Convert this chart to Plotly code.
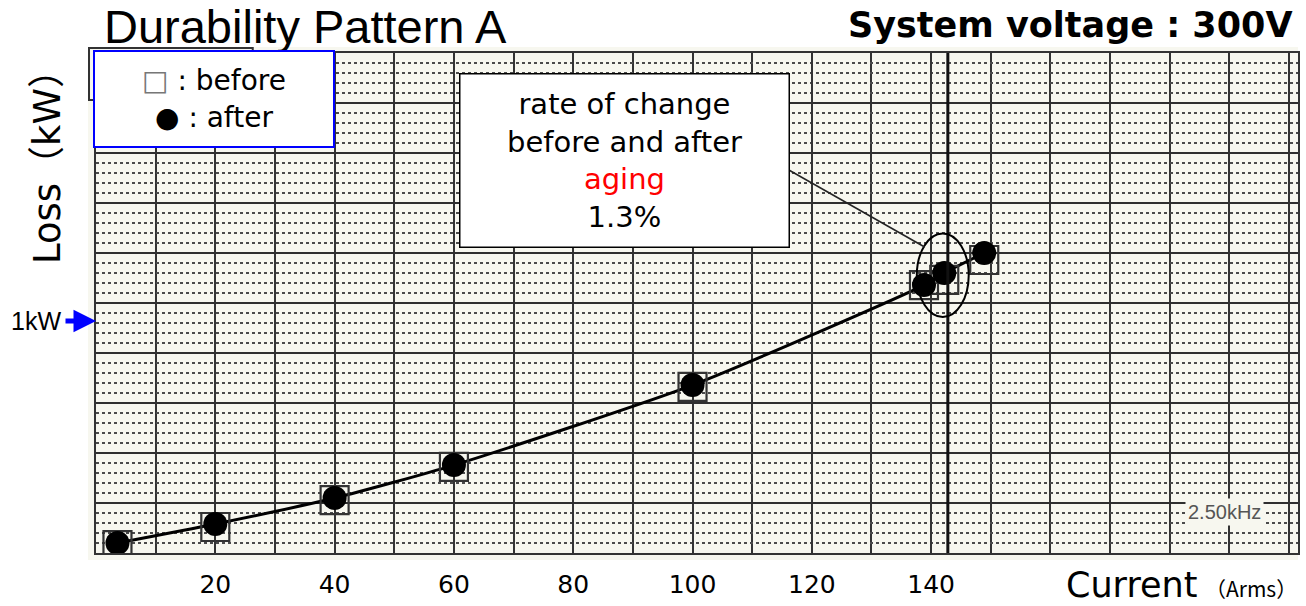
import plotly.graph_objects as go

# ---- data ----
current_before = [3.6, 20, 40, 60, 100, 138.8, 142.2, 148.9]
loss_before = [0.034, 0.112, 0.228, 0.371, 0.716, 1.155, 1.177, 1.263]
current_after = [3.6, 20, 40, 60, 100, 138.8, 142.2, 148.9]
loss_after = [0.043, 0.125, 0.237, 0.379, 0.724, 1.155, 1.207, 1.293]
x_tick_values = [20, 40, 60, 80, 100, 120, 140]
x_tick_labels = ["20", "40", "60", "80", "100", "120", "140"]
highlight_index = 6
marker_line_current = 142.8
one_kw = 1.0

# ---- axis geometry ----
X_RANGE = [0, 201.5]
Y_TOP = 500 / 232.0
Y_MAJOR = 50 / 232.0
Y_MINOR = 10 / 232.0

BG = "#f7f7ef"
GRID = "#333333"

fig = go.Figure()

fig.add_trace(go.Scatter(
    x=current_after, y=loss_after, mode="lines",
    line=dict(color="black", width=3, shape="spline", smoothing=0.6),
    hoverinfo="skip", showlegend=False))
fig.add_trace(go.Scatter(
    x=current_before, y=loss_before, mode="markers", name="before",
    marker=dict(symbol="square-open", size=28, color="#333333",
                line=dict(width=2.2, color="#333333")),
    showlegend=False))
fig.add_trace(go.Scatter(
    x=current_after, y=loss_after, mode="markers", name="after",
    marker=dict(symbol="circle", size=24, color="black"),
    showlegend=False))

# paper strip of the scanned sheet + shadow box behind legend
shapes = [
    dict(type="rect", xref="paper", yref="paper",
         x0=(88 - 96) / 1204, x1=1.0, y0=(553 - 560) / 500, y1=(553 - 47) / 500,
         fillcolor=BG, line=dict(width=0), layer="below"),
    dict(type="rect", xref="paper", yref="paper",
         x0=(89 - 96) / 1204, x1=(253 - 96) / 1204, y0=(553 - 100) / 500, y1=(553 - 48) / 500,
         fillcolor="rgba(0,0,0,0)", line=dict(width=2, color="#333333"), layer="above"),
    # thick measurement line
    dict(type="line", xref="x", yref="paper", x0=marker_line_current, x1=marker_line_current,
         y0=0, y1=1, line=dict(color="#111111", width=3)),
]
hx = current_after[highlight_index]
hy = loss_after[highlight_index]
shapes.append(dict(type="circle", xref="x", yref="y",
                   x0=hx - 4.6, x1=hx + 4.1, y0=hy - 0.19, y1=hy + 0.17,
                   line=dict(color="black", width=2), fillcolor="rgba(0,0,0,0)"))
shapes.append(dict(type="line", xref="paper", yref="paper",
                   x0=(790 - 96) / 1204, y0=(553 - 170) / 500,
                   x1=(926 - 96) / 1204, y1=(553 - 247) / 500,
                   line=dict(color="#222222", width=1.5)))

annotations = [
    dict(text="Durability Pattern A", xref="paper", yref="paper",
         x=(102 - 96) / 1204, y=(553 - 27) / 500, xanchor="left", yanchor="middle",
         showarrow=False, font=dict(family="Liberation Sans", size=47, color="black")),
    dict(text="<b>System voltage : 300V</b>", xref="paper", yref="paper",
         x=(1297 - 96) / 1204, y=(553 - 25) / 500, xanchor="right", yanchor="middle",
         showarrow=False, font=dict(family="DejaVu Sans", size=35, color="black")),
    dict(text="Loss（kW）", xref="paper", yref="paper", textangle=-90,
         x=(47 - 96) / 1204, y=(553 - 158) / 500, xanchor="center", yanchor="middle",
         showarrow=False, font=dict(family="DejaVu Sans, Noto Sans CJK JP", size=37, color="black")),
    dict(text="Current", xref="paper", yref="paper",
         x=(1066 - 96) / 1204, y=(553 - 585) / 500, xanchor="left", yanchor="middle",
         showarrow=False, font=dict(family="DejaVu Sans", size=35, color="black")),
    dict(text="（Arms）", xref="paper", yref="paper",
         x=(1205 - 96) / 1204, y=(553 - 588) / 500, xanchor="left", yanchor="middle",
         showarrow=False, font=dict(family="Noto Sans CJK JP", size=21, color="black")),
    dict(text="1kW", xref="paper", yref="y",
         x=(63 - 96) / 1204, y=one_kw, xanchor="right", yanchor="middle",
         showarrow=False, font=dict(family="Liberation Sans", size=25, color="black")),
    dict(text="", xref="paper", yref="y", x=0, y=one_kw,
         ax=-32, ay=0, showarrow=True, arrowhead=2, arrowsize=0.9, arrowwidth=5,
         arrowcolor="#0000ff", standoff=0),
    dict(text="2.50kHz", xref="paper", yref="paper",
         x=(1226 - 96) / 1204, y=(553 - 512) / 500, xanchor="center", yanchor="middle",
         showarrow=False, bgcolor=BG, borderpad=2,
         font=dict(family="Liberation Sans Narrow, Liberation Sans", size=20, color="#555555")),
    dict(text="<span style='color:#777777'>□</span> : before<br>● : after",
         xref="paper", yref="paper",
         x=(214 - 96) / 1204, y=(553 - 99) / 500, xanchor="center", yanchor="middle",
         showarrow=False, width=238, height=94, bgcolor="white",
         bordercolor="#0000ff", borderwidth=2, borderpad=0, align="center",
         font=dict(family="DejaVu Sans", size=28, color="black")),
    dict(text="rate of change<br>before and after<br><span style='color:red'>aging</span><br>1.3%",
         xref="paper", yref="paper",
         x=(625 - 96) / 1204, y=(553 - 160) / 500, xanchor="center", yanchor="middle",
         showarrow=False, width=328, height=172, bgcolor="white",
         bordercolor="black", borderwidth=1.5, borderpad=0, align="center",
         font=dict(family="DejaVu Sans", size=29, color="black")),
]

fig.update_layout(
    width=1306, height=606,
    margin=dict(l=96, r=6, t=53, b=53),
    paper_bgcolor="white", plot_bgcolor=BG,
    showlegend=False,
    shapes=shapes, annotations=annotations,
    xaxis=dict(range=X_RANGE, tickvals=x_tick_values, ticktext=x_tick_labels,
               ticks="", ticklabelstandoff=8,
               tickfont=dict(family="DejaVu Sans", size=25, color="black"),
               showgrid=True, gridcolor=GRID, gridwidth=1.6, zeroline=False,
               minor=dict(dtick=10, tick0=0, showgrid=True, gridcolor=GRID, gridwidth=1.6),
               showline=True, linecolor="#333333", linewidth=1.5, mirror=True,
               fixedrange=True),
    yaxis=dict(range=[0, Y_TOP], tick0=0, dtick=Y_MAJOR, showticklabels=False, ticks="",
               showgrid=True, gridcolor="#2f2f2f", gridwidth=1.6, zeroline=False,
               minor=dict(dtick=Y_MINOR, tick0=0, showgrid=True, gridcolor="#4a4a4a",
                          gridwidth=1.6, griddash="dot"),
               showline=True, linecolor="#333333", linewidth=1.5, mirror=True,
               fixedrange=True),
)

fig.write_html("out.html", config={"displayModeBar": False},
               post_script="document.body.style.margin='0';document.body.style.overflow='hidden';")
